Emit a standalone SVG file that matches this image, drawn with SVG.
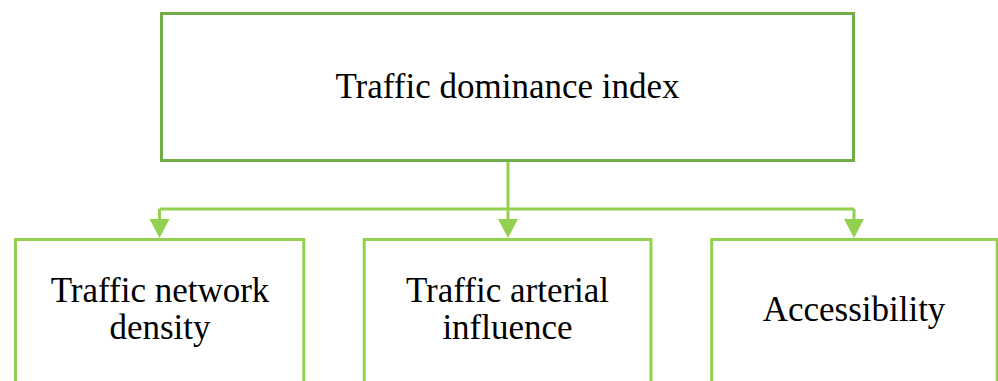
<svg xmlns="http://www.w3.org/2000/svg" width="998" height="381" viewBox="0 0 998 381">
<style>
.top{fill:#fff;stroke:#70AD47;stroke-width:3}
.box{fill:#fff;stroke:#92D050;stroke-width:3}
.con{fill:none;stroke:#92D050;stroke-width:3}
.t{font-family:"Liberation Serif","Times New Roman",serif;font-size:35px;fill:#000;text-anchor:middle}
</style>
<rect width="998" height="381" fill="#fff"/>
<g id="connectors">
<path class="con" d="M508,161 V219"/>
<path class="con" d="M159.5,209 H854"/>
<path class="con" d="M159.5,209 V219"/>
<path class="con" d="M854,209 V219"/>
<path d="M498,219 L518,219 L508,238 Z" fill="#92D050"/>
<path d="M149.5,219 L169.5,219 L159.5,238 Z" fill="#92D050"/>
<path d="M844,219 L864,219 L854,238 Z" fill="#92D050"/>
</g>
<g id="node-top">
<rect class="top" x="161.5" y="13.5" width="692" height="147"/>
<text class="t" x="507.5" y="98">Traffic dominance index</text>
</g>
<g id="node-density">
<rect class="box" x="15.5" y="239.5" width="288.3" height="160"/>
<text class="t" x="160" y="302">Traffic network</text>
<text class="t" x="160" y="339">density</text>
</g>
<g id="node-arterial">
<rect class="box" x="364.2" y="239.5" width="286.8" height="160"/>
<text class="t" x="507.5" y="302">Traffic arterial</text>
<text class="t" x="507.5" y="339">influence</text>
</g>
<g id="node-access">
<rect class="box" x="711.7" y="239.5" width="285.5" height="160"/>
<text class="t" x="854" y="321">Accessibility</text>
</g>
</svg>
